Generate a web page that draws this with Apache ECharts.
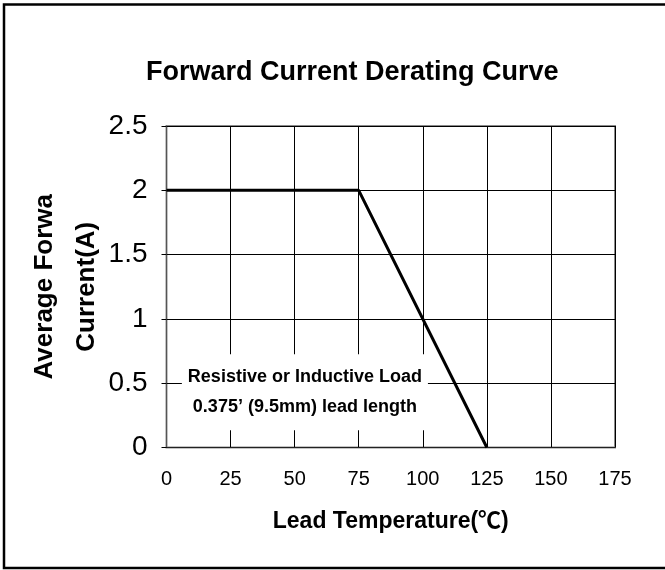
<!DOCTYPE html>
<html>
<head>
<meta charset="utf-8">
<script src="https://cdn.jsdelivr.net/npm/echarts@6/dist/echarts.min.js"></script>
<style>
  html, body { margin: 0; padding: 0; background: #fff; }
  #chart-dom { width: 665px; height: 570px; }
</style>
</head>
<body>
<div id="chart-dom"></div>
<script>
// derating curve: temperature (C) vs current (A)
const temps = [0, 75, 125];
const currents = [2, 2, 0];
const noteLines = ['Resistive or Inductive Load', '0.375’ (9.5mm) lead length'];
const notePos = [54, 0.43]; // where the note box sits, in data units

const font = '"Liberation Sans", Arial, "Noto Sans CJK SC", sans-serif';

const myChart = echarts.init(document.getElementById('chart-dom'), null, { renderer: 'canvas' });

const option = {
  backgroundColor: '#fff',
  animation: false,
  title: {
    text: 'Forward Current Derating Curve',
    left: 141,
    top: 54,
    textStyle: { color: '#000', fontSize: 27, fontWeight: 'bold', fontFamily: font }
  },
  grid: {
    left: 166.5,
    top: 126,
    right: 50,
    bottom: 122.5,
    show: true,
    borderColor: '#8a8a8a',
    borderWidth: 2
  },
  xAxis: {
    type: 'value',
    min: 0,
    max: 175,
    interval: 25,
    name: 'Lead Temperature(℃)',
    nameLocation: 'middle',
    nameGap: 63,
    nameMoveOverlap: false,
    nameTextStyle: { color: '#000', fontSize: 23, fontWeight: 'bold', fontFamily: font },
    axisLine: { lineStyle: { color: '#222', width: 1 } },
    axisTick: { show: false },
    axisLabel: { color: '#000', fontSize: 20, margin: 22, fontFamily: font },
    splitLine: { show: true, lineStyle: { color: '#000', width: 1 } }
  },
  yAxis: {
    type: 'value',
    min: 0,
    max: 2.5,
    interval: 0.5,
    name: 'Average Forwa\nCurrent(A)',
    nameLocation: 'middle',
    nameGap: 59,
    nameMoveOverlap: false,
    nameRotate: 90,
    nameTextStyle: { color: '#000', fontSize: 26, fontWeight: 'bold', lineHeight: 42, fontFamily: font },
    axisLine: { show: true, lineStyle: { color: '#555', width: 1 } },
    axisTick: { show: true, length: 5, lineStyle: { color: '#000' } },
    axisLabel: { color: '#000', fontSize: 28, margin: 19, fontFamily: font },
    splitLine: { show: true, lineStyle: { color: '#000', width: 1 } }
  },
  series: [{
    type: 'line',
    data: temps.map((t, i) => [t, currents[i]]),
    showSymbol: false,
    lineStyle: { color: '#000', width: 3 },
    z: 5
  }]
};
myChart.setOption(option, true);

// note box and outer frame
const p = myChart.convertToPixel({ gridIndex: 0 }, notePos);
myChart.setOption({
  graphic: [
    {
      type: 'text',
      x: p[0],
      y: p[1],
      z: 10,
      style: {
        text: noteLines.join('\n'),
        fill: '#000',
        font: 'bold 18px ' + font,
        lineHeight: 30,
        align: 'center',
        verticalAlign: 'middle',
        backgroundColor: '#fff',
        padding: [8, 6, 8, 6]
      }
    },
    {
      type: 'rect',
      z: 20,
      silent: true,
      shape: { x: 4, y: 4.5, width: 700, height: 563.5 },
      style: { fill: 'none', stroke: '#000', lineWidth: 2.5 }
    }
  ]
});
</script>
</body>
</html>
